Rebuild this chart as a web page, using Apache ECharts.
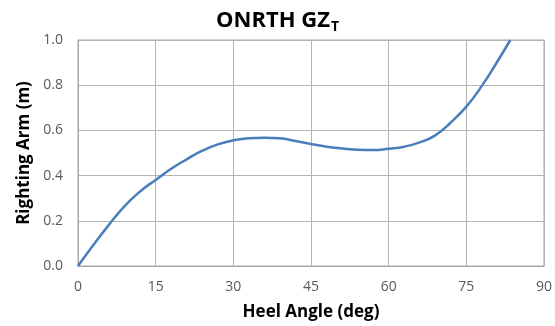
<!DOCTYPE html>
<html><head><meta charset="utf-8">
<script src="https://cdn.jsdelivr.net/npm/echarts@6/dist/echarts.min.js"></script>
<style>html,body{margin:0;padding:0;background:#fff}#c{width:555px;height:326px}</style>
</head><body><div id="c"></div>
<script>
const heelAngles = [0,3,6,9,12,15,18,21,24,27,30,33,36,39,42,45,48,51,54,57,60,63,66,69,72,75,78,81,83.5];
const rightingArm = [0,0.094,0.183,0.265,0.33,0.381,0.43,0.472,0.51,0.538,0.556,0.565,0.568,0.565,0.553,0.54,0.528,0.52,0.514,0.513,0.519,0.528,0.547,0.578,0.635,0.705,0.797,0.905,1.0];
const xTicks = [0,15,30,45,60,75,90];
const yTicks = [0,0.2,0.4,0.6,0.8,1.0];
const font = '"Open Sans", Lato, sans-serif';
const chart = echarts.init(document.getElementById('c'));
chart.setOption({
  animation:false,
  title:{text:'{a|ONRTH GZ}{s|T}',left:'center',top:2,
    textStyle:{rich:{a:{fontFamily:font,fontWeight:'bold',fontSize:22,color:'#000'},
      s:{fontFamily:font,fontWeight:'bold',fontSize:14,color:'#000',verticalAlign:'bottom',padding:[13,0,0,1]}}}},
  grid:{left:78,right:11,top:40,bottom:60,show:true,borderColor:'#a6a6a6',borderWidth:1},
  xAxis:{type:'value',min:0,max:90,interval:15,
    name:'Heel Angle (deg)',nameLocation:'middle',nameGap:38,
    nameTextStyle:{fontFamily:font,fontWeight:'bold',fontSize:17,color:'#000'},
    axisLine:{show:true,lineStyle:{color:'#a6a6a6'}},axisTick:{show:false},
    axisLabel:{fontFamily:font,fontSize:14,color:'#595959',margin:14,formatter:v=>xTicks.includes(v)?String(v):''},
    splitLine:{show:true,lineStyle:{color:'#b3b3b3',width:1}}},
  yAxis:{type:'value',min:0,max:1,interval:0.2,
    name:'Righting Arm (m)',nameLocation:'middle',nameGap:41,
    nameTextStyle:{fontFamily:font,fontWeight:'bold',fontSize:17,color:'#000'},
    axisLine:{show:true,lineStyle:{color:'#a6a6a6'}},axisTick:{show:false},
    axisLabel:{fontFamily:font,fontSize:14,color:'#595959',margin:15,formatter:v=>v.toFixed(1)},
    splitLine:{show:true,lineStyle:{color:'#b3b3b3',width:1}}},
  series:[{type:'line',data:heelAngles.map((x,i)=>[x,rightingArm[i]]),smooth:0.5,showSymbol:false,
    lineStyle:{color:'#4a7ebb',width:2.5}}]
});
</script></body></html>
